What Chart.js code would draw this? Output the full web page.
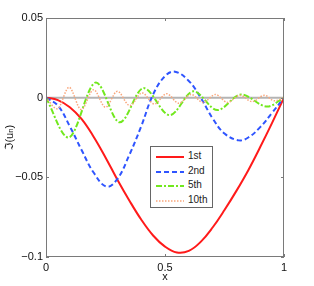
<!DOCTYPE html>
<html>
<head>
<meta charset="utf-8">
<script src="https://cdn.jsdelivr.net/npm/chart.js@4/dist/chart.umd.min.js"></script>
<style>
  body { margin: 0; background: #fff; }
  #wrap { position: relative; width: 314px; height: 286px; }
  #legend {
    position: absolute; left: 150px; top: 146px; width: 61px; height: 60px;
    border: 1px solid #666; background: #fff;
    font: 10px "Liberation Sans", Arial, sans-serif; color: #222;
  }
  #legend .row { position: absolute; left: 5px; height: 12px; }
  #legend svg { position: absolute; left: 0; top: 2px; }
  #legend span { position: absolute; left: 32px; top: -1px; }
</style>
</head>
<body>
<div id="wrap">
  <canvas id="chart" width="314" height="286"></canvas>
  <div id="legend"></div>
</div>
<script>
// values
const x1 = [0, 0.05, 0.1, 0.15, 0.2, 0.25, 0.3, 0.35, 0.4, 0.45, 0.5, 0.55, 0.6, 0.65, 0.7, 0.75, 0.8, 0.85, 0.9, 0.95, 1];
const first = [0, -0.0015, -0.006, -0.0135, -0.0245, -0.0375, -0.0515, -0.0645, -0.0765, -0.0865, -0.0935, -0.0972, -0.0962, -0.0905, -0.0815, -0.0705, -0.0585, -0.0455, -0.031, -0.0158, 0];

const x2 = [0, 0.05, 0.1, 0.15, 0.2, 0.255, 0.3, 0.35, 0.4, 0.45, 0.5, 0.542, 0.6, 0.65, 0.7, 0.75, 0.81, 0.85, 0.9, 0.95, 1];
const second = [0, -0.005, -0.018, -0.033, -0.047, -0.0559, -0.051, -0.036, -0.018, 0.002, 0.0135, 0.0163, 0.0105, 0, -0.013, -0.0225, -0.0268, -0.025, -0.0185, -0.0095, 0];

const x5 = [0, 0.094, 0.21, 0.31, 0.41, 0.52, 0.62, 0.72, 0.82, 0.93, 1];
const fifth = [0, -0.025, 0.0095, -0.0155, 0.006, -0.011, 0.004, -0.0078, 0.002, -0.0056, 0];

const x10 = [0, 0.047, 0.097, 0.148, 0.2, 0.25, 0.3, 0.352, 0.404, 0.455, 0.507, 0.558, 0.61, 0.66, 0.712, 0.763, 0.815, 0.866, 0.918, 0.96, 1];
const tenth = [0, -0.007, 0.0065, -0.0075, 0.005, -0.006, 0.004, -0.005, 0.003, -0.004, 0.0025, -0.0035, 0.002, -0.003, 0.002, -0.003, 0.0015, -0.0025, 0.0015, -0.002, 0];

const seriesNames = ['1st', '2nd', '5th', '10th'];
const xTicks = [0, 0.5, 1];
const yTicks = [0.05, 0, -0.05, -0.1];

function pts(xs, ys) {
    return xs.map(function(x, i) { return {x: x, y: ys[i]}; });
}

const styles = [
    {color: '#ff1a1a', width: 2, dash: [], mode: 'default'},
    {color: '#2f55ff', width: 2, dash: [5, 3], mode: 'default'},
    {color: '#72e81e', width: 2, dash: [6, 2, 2, 2], mode: 'monotone'},
    {color: '#f9a77c', width: 1.5, dash: [1.5, 1.5], mode: 'monotone'}
];

const FONT = {family: '"Liberation Sans", Arial, "DejaVu Sans", sans-serif', size: 11};

// axes box with inward ticks like the original
const boxPlugin = {
    id: 'box',
    afterDraw(chart) {
        const ctx = chart.ctx, a = chart.chartArea;
        const xs = chart.scales.x, ys = chart.scales.y;
        ctx.save();
        ctx.strokeStyle = '#7a7a7a';
        ctx.lineWidth = 1;
        ctx.strokeRect(a.left + 0.5, a.top + 0.5, a.right - a.left - 1, a.bottom - a.top - 1);
        ctx.beginPath();
        xTicks.forEach(function(v) {
            const px = Math.round(xs.getPixelForValue(v)) + 0.5;
            ctx.moveTo(px, a.bottom); ctx.lineTo(px, a.bottom - 3);
            ctx.moveTo(px, a.top); ctx.lineTo(px, a.top + 3);
        });
        yTicks.forEach(function(v) {
            const py = Math.round(ys.getPixelForValue(v)) + 0.5;
            ctx.moveTo(a.left, py); ctx.lineTo(a.left + 3, py);
            ctx.moveTo(a.right, py); ctx.lineTo(a.right - 3, py);
        });
        ctx.stroke();
        ctx.restore();
    }
};

const datasets = [{
    label: 'zero',
    data: pts([0, 1], [0, 0]),
    borderColor: '#b4b4b4',
    borderWidth: 2,
    pointRadius: 0,
    order: 10
}];
[[x1, first], [x2, second], [x5, fifth], [x10, tenth]].forEach(function(s, i) {
    datasets.push({
        label: seriesNames[i],
        data: pts(s[0], s[1]),
        borderColor: styles[i].color,
        borderWidth: styles[i].width,
        borderDash: styles[i].dash,
        pointRadius: 0,
        cubicInterpolationMode: styles[i].mode,
        tension: 0.4,
        order: 4 - i
    });
});

const chart = new Chart(document.getElementById('chart').getContext('2d'), {
    type: 'line',
    data: {datasets: datasets},
    options: {
        responsive: false,
        animation: false,
        layout: {padding: {top: 18, right: 30, left: 0, bottom: 0}},
        plugins: {legend: {display: false}, tooltip: {enabled: false}},
        scales: {
            x: {
                type: 'linear', min: 0, max: 1,
                afterFit: function(s) { s.height = 29; },
                afterBuildTicks: function(s) { s.ticks = xTicks.map(function(v) { return {value: v}; }); },
                grid: {display: false, drawTicks: false},
                border: {display: false},
                ticks: {color: '#111', font: FONT, padding: 4,
                    callback: function(v) { return String(v); }},
                title: {display: true, text: 'x', color: '#111', font: FONT, padding: {top: 0, bottom: 2}}
            },
            y: {
                min: -0.1, max: 0.05,
                afterFit: function(s) { s.width = 46; },
                afterBuildTicks: function(s) { s.ticks = yTicks.map(function(v) { return {value: v}; }); },
                grid: {display: false, drawTicks: false},
                border: {display: false},
                ticks: {color: '#111', font: FONT, padding: 3,
                    callback: function(v) {
                        const r = Math.round(v * 100) / 100;
                        return r < 0 ? '\u2212' + String(-r) : String(r);
                    }},
                title: {display: true, text: '\u2111(u\u2099)', color: '#111', font: FONT, padding: {top: 3, bottom: 0}}
            }
        }
    },
    plugins: [boxPlugin]
});

// legend drawn as html on top of the plot
const legend = document.getElementById('legend');
const rowTops = [4, 19, 33, 48];
seriesNames.forEach(function(name, i) {
    const st = styles[i];
    const row = document.createElement('div');
    row.className = 'row';
    row.style.top = rowTops[i] + 'px';
    row.innerHTML = '<svg width="28" height="8"><line x1="0" y1="4" x2="28" y2="4" stroke="' + st.color +
        '" stroke-width="' + st.width + '" stroke-dasharray="' + (st.dash.length ? st.dash.join(',') : 'none') +
        '"/></svg><span>' + name + '</span>';
    legend.appendChild(row);
});
</script>
</body>
</html>
